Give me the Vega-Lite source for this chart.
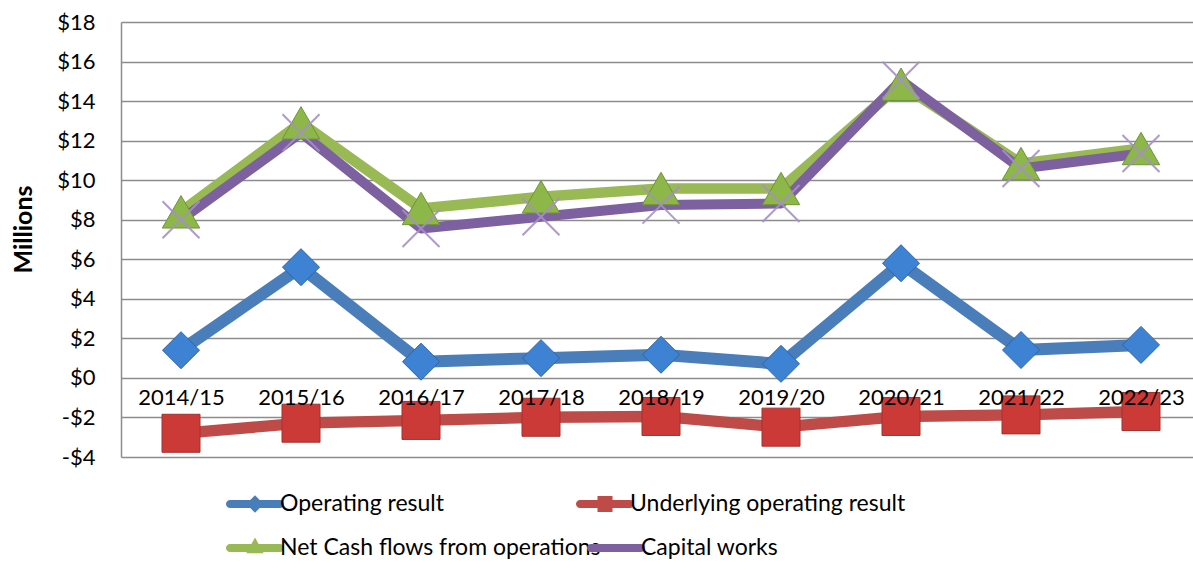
{
  "$schema": "https://vega.github.io/schema/vega-lite/v6.json",
  "autosize": {"type": "none"},
  "width": 1080,
  "height": 435,
  "padding": {"left": 121, "top": 22, "right": 0, "bottom": 113},
  "background": "white",
  "config": {"view": {"stroke": null}, "font": "Lato"},
  "data": {
    "values": [
      {"year": "2014/15", "series": "Operating result", "value": 1.4},
      {"year": "2015/16", "series": "Operating result", "value": 5.6},
      {"year": "2016/17", "series": "Operating result", "value": 0.82},
      {"year": "2017/18", "series": "Operating result", "value": 1.0},
      {"year": "2018/19", "series": "Operating result", "value": 1.17},
      {"year": "2019/20", "series": "Operating result", "value": 0.71},
      {"year": "2020/21", "series": "Operating result", "value": 5.8},
      {"year": "2021/22", "series": "Operating result", "value": 1.41},
      {"year": "2022/23", "series": "Operating result", "value": 1.67},
      {"year": "2014/15", "series": "Underlying operating result", "value": -2.8},
      {"year": "2015/16", "series": "Underlying operating result", "value": -2.29},
      {"year": "2016/17", "series": "Underlying operating result", "value": -2.15},
      {"year": "2017/18", "series": "Underlying operating result", "value": -1.99},
      {"year": "2018/19", "series": "Underlying operating result", "value": -1.95},
      {"year": "2019/20", "series": "Underlying operating result", "value": -2.49},
      {"year": "2020/21", "series": "Underlying operating result", "value": -1.95},
      {"year": "2021/22", "series": "Underlying operating result", "value": -1.87},
      {"year": "2022/23", "series": "Underlying operating result", "value": -1.7},
      {"year": "2014/15", "series": "Net Cash flows from operations", "value": 8.4},
      {"year": "2015/16", "series": "Net Cash flows from operations", "value": 12.9},
      {"year": "2016/17", "series": "Net Cash flows from operations", "value": 8.57},
      {"year": "2017/18", "series": "Net Cash flows from operations", "value": 9.16},
      {"year": "2018/19", "series": "Net Cash flows from operations", "value": 9.58},
      {"year": "2019/20", "series": "Net Cash flows from operations", "value": 9.58},
      {"year": "2020/21", "series": "Net Cash flows from operations", "value": 14.85},
      {"year": "2021/22", "series": "Net Cash flows from operations", "value": 10.84},
      {"year": "2022/23", "series": "Net Cash flows from operations", "value": 11.6},
      {"year": "2014/15", "series": "Capital works", "value": 8.0},
      {"year": "2015/16", "series": "Capital works", "value": 12.4},
      {"year": "2016/17", "series": "Capital works", "value": 7.56},
      {"year": "2017/18", "series": "Capital works", "value": 8.15},
      {"year": "2018/19", "series": "Capital works", "value": 8.74},
      {"year": "2019/20", "series": "Capital works", "value": 8.82},
      {"year": "2020/21", "series": "Capital works", "value": 15.05},
      {"year": "2021/22", "series": "Capital works", "value": 10.59},
      {"year": "2022/23", "series": "Capital works", "value": 11.35}
    ]
  },
  "encoding": {
    "x": {
      "field": "year", "type": "nominal", "sort": null,
      "scale": {"type": "point", "padding": 0.5},
      "axis": {"title": null, "offset": -79, "domain": false, "ticks": false, "grid": false,
               "labelAngle": 0, "labelFont": "Lato", "labelFontSize": 22, "labelColor": "black",
               "labelPadding": 9, "labelBaseline": "top", "zindex": 1}
    },
    "y": {
      "field": "value", "type": "quantitative",
      "scale": {"domain": [-4, 18], "nice": false, "zero": false},
      "axis": {"title": "Millions", "values": [-4,-2,0,2,4,6,8,10,12,14,16,18],
               "labelExpr": "datum.value < 0 ? '-$' + abs(datum.value) : '$' + datum.value",
               "labelFont": "Lato", "labelFontSize": 22, "labelColor": "black", "labelPadding": 26,
               "ticks": false, "domain": true, "domainColor": "#8C8C8C", "domainWidth": 1.5,
               "grid": true, "gridColor": "#8C8C8C", "gridWidth": 1.5, "gridOpacity": 1,
               "titleFont": "Lato", "titleFontSize": 25, "titleFontWeight": "bold", "titleColor": "black",
               "titleX": -98, "titleY": 207, "titleAlign": "center", "titleBaseline": "middle", "titleAngle": -90}
    }
  },
  "layer": [
    {
      "transform": [{"filter": "datum.series === 'Operating result' || datum.series === 'Underlying operating result'"}],
      "mark": {"type": "line", "strokeJoin": "round", "strokeCap": "round"},
      "encoding": {
        "color": {
          "field": "series", "type": "nominal",
          "scale": {"domain": ["Operating result", "Underlying operating result"],
                    "range": ["#4A7EBB", "#BE4B48"]},
          "legend": {
            "title": null, "orient": "none", "legendX": 119, "legendY": 467, "columns": 2,
            "direction": "horizontal", "labelLimit": 500, "symbolStrokeWidth": 0,
            "columnPadding": 130, "rowPadding": 0, "labelFont": "Lato", "labelFontSize": 23,
            "labelColor": "black", "labelOffset": 10, "symbolSize": 900, "symbolType": "square",
            "encode": {
              "symbols": {
                "update": {
                  "shape": {"signal": "(datum.value === 'Operating result' ? 'M0,-0.58L0.58,0L0,0.58L-0.58,0Z ' : datum.value === 'Underlying operating result' ? 'M-0.5,-0.54H0.5V0.54H-0.5Z ' : datum.value === 'Net Cash flows from operations' ? 'M0,-0.7L0.58,0.35L-0.58,0.35Z ' : '') + 'M-1.663,-0.271H1.663A0.271,0.271 0 0 1 1.663,0.271H-1.663A0.271,0.271 0 0 1 -1.663,-0.271Z'"},
                  "fill": {"scale": "color", "field": "value"},
                  "fillOpacity": {"value": 1},
                  "strokeWidth": {"value": 0}
                }
              }
            }
          }
        },
        "strokeWidth": {
          "field": "series", "type": "nominal",
          "scale": {"domain": ["Operating result", "Underlying operating result", "Net Cash flows from operations", "Capital works"],
                    "range": [12, 10, 12, 12]},
          "legend": null
        }
      }
    },
    {
      "transform": [{"filter": "datum.series === 'Net Cash flows from operations' || datum.series === 'Capital works'"}],
      "mark": {"type": "line", "strokeJoin": "round", "strokeCap": "round"},
      "encoding": {
        "stroke": {
          "field": "series", "type": "nominal",
          "scale": {"domain": ["Net Cash flows from operations", "Capital works"],
                    "range": ["#98B954", "#7D60A0"]},
          "legend": {
            "title": null, "orient": "none", "legendX": 119, "legendY": 511, "columns": 2,
            "direction": "horizontal", "labelLimit": 500, "symbolStrokeWidth": 0,
            "columnPadding": -25, "rowPadding": 0, "labelFont": "Lato", "labelFontSize": 23,
            "labelColor": "black", "labelOffset": 10, "symbolSize": 900, "symbolType": "square",
            "encode": {
              "symbols": {
                "update": {
                  "shape": {"signal": "(datum.value === 'Net Cash flows from operations' ? 'M0,-0.7L0.58,0.35L-0.58,0.35Z ' : '') + 'M-1.663,-0.271H1.663A0.271,0.271 0 0 1 1.663,0.271H-1.663A0.271,0.271 0 0 1 -1.663,-0.271Z'"},
                  "fill": {"scale": "stroke", "field": "value"},
                  "fillOpacity": {"value": 1},
                  "strokeWidth": {"value": 0}
                }
              }
            }
          }
        },
        "strokeWidth": {
          "field": "series", "type": "nominal",
          "scale": {"domain": ["Operating result", "Underlying operating result", "Net Cash flows from operations", "Capital works"],
                    "range": [12, 10, 12, 12]},
          "legend": null
        }
      }
    },
    {
      "transform": [{"filter": "datum.series === 'Operating result'"}],
      "mark": {"type": "point", "filled": true, "opacity": 1, "shape": "diamond", "size": 1369,
               "fill": "#3E82D4", "stroke": "#2E64A8", "strokeWidth": 1}
    },
    {
      "transform": [{"filter": "datum.series === 'Underlying operating result'"}],
      "mark": {"type": "point", "filled": true, "opacity": 1, "shape": "square", "size": 1444,
               "fill": "#CC3A37", "stroke": "#A3302D", "strokeWidth": 1}
    },
    {
      "transform": [{"filter": "datum.series === 'Net Cash flows from operations'"}],
      "mark": {"type": "point", "filled": true, "opacity": 1, "shape": "triangle-up", "size": 1400,
               "fill": "#8DB748", "stroke": "#6F9438", "strokeWidth": 1}
    },
    {
      "transform": [{"filter": "datum.series === 'Capital works'"}],
      "mark": {"type": "point", "filled": false, "shape": "M-1,-1L1,1M1,-1L-1,1", "size": 1369,
               "stroke": "#A690C8", "strokeWidth": 2, "opacity": 0.9}
    }
  ]
}
